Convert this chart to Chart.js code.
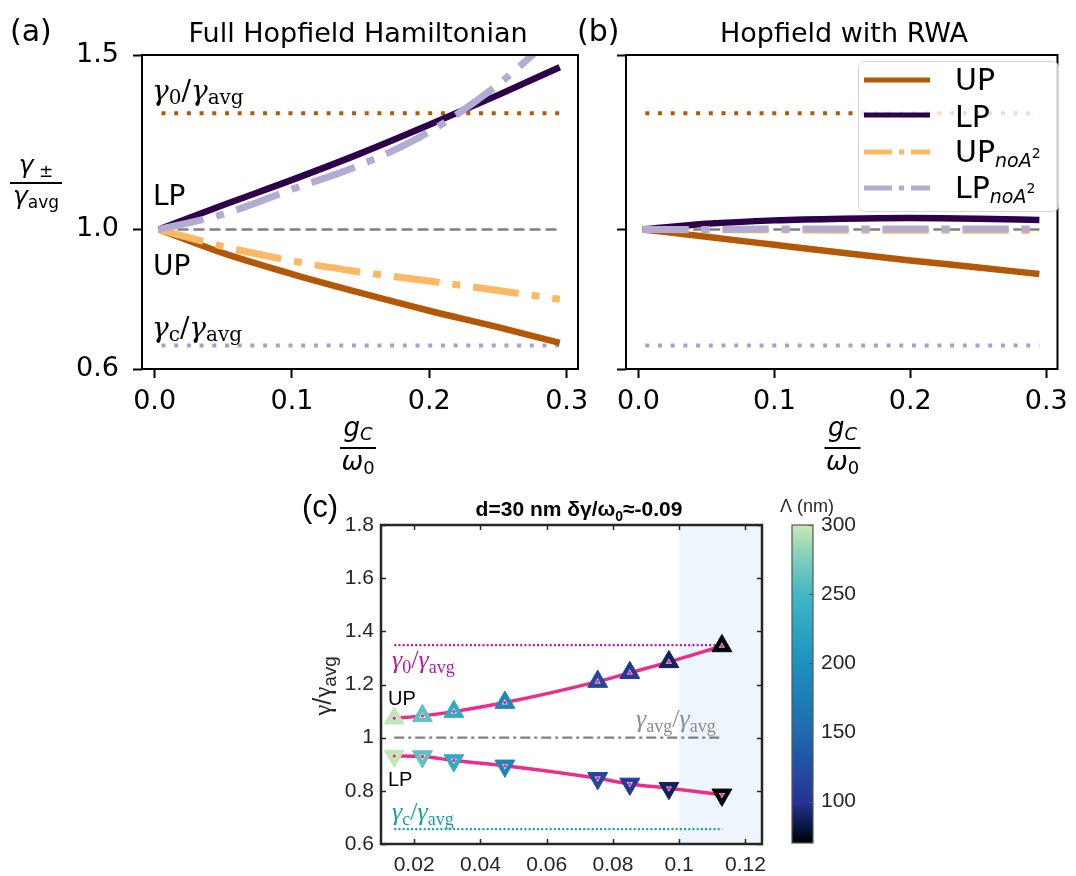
<!DOCTYPE html>
<html>
<head>
<meta charset="utf-8">
<script src="https://cdn.jsdelivr.net/npm/chart.js@4.4.0/dist/chart.umd.min.js"></script>
<style>
  html, body { margin: 0; padding: 0; background: #fff; }
  #page { position: relative; width: 1076px; height: 876px; overflow: hidden; background: #fff; }
  canvas { position: absolute; }
</style>
</head>
<body>
<div id="page">
  <canvas id="chartA"></canvas>
  <canvas id="chartB"></canvas>
  <canvas id="chartC"></canvas>
  <canvas id="chartBar"></canvas>
</div>
<script>
// ---- panels (a) and (b): gamma_pm / gamma_avg against g_C / omega_0 ----
const gFull = [0.003, 0.05, 0.1, 0.15, 0.2, 0.25, 0.295];
const upFull = [1.0, 0.932, 0.872, 0.818, 0.767, 0.72, 0.675];
const lpFull = [1.0, 1.07, 1.142, 1.218, 1.3, 1.385, 1.465];
const upNoA2Full = [1.0, 0.951, 0.91, 0.878, 0.852, 0.825, 0.8];
const gLpNoA2Full = [0.003, 0.05, 0.1, 0.15, 0.2, 0.25, 0.278];
const lpNoA2Full = [1.0, 1.044, 1.115, 1.185, 1.28, 1.415, 1.51];

const gRwa = [0.003, 0.05, 0.1, 0.15, 0.2, 0.25, 0.295];
const upRwa = [1.0, 0.979, 0.956, 0.933, 0.911, 0.891, 0.872];
const lpRwa = [1.0, 1.016, 1.026, 1.031, 1.033, 1.031, 1.027];
const upNoA2Rwa = [1.0, 0.999, 0.999, 0.998, 0.998, 0.998, 0.997];
const lpNoA2Rwa = [1.0, 1.0, 1.001, 1.001, 1.001, 1.001, 1.001];

// horizontal reference levels
const refSpan = [0.005, 0.295];
const gamma0Ratio = 1.333;
const gammaCRatio = 0.667;
const gammaAvgRatio = 1.0;

const xTicksHop = [0, 0.1, 0.2, 0.3];
const yTicksHop = [0.6, 1.0, 1.5];

// ---- panel (c): measured UP / LP, colour = grating period Lambda ----
const gC = [0.014, 0.0225, 0.032, 0.0474, 0.0754, 0.0851, 0.0969, 0.1129];
const upC = [1.073, 1.082, 1.098, 1.132, 1.211, 1.244, 1.285, 1.345];
const lpC = [0.931, 0.929, 0.914, 0.894, 0.847, 0.826, 0.81, 0.785];
const lambdaC = [298, 262, 232, 183, 118, 105, 88, 72];
const refSpanC = [0.014, 0.113];
const gamma0C = 1.348;
const gammaCC = 0.656;
const gammaAvgC = 1.0;
const shadeFromC = 0.1;

const xTicksC = [0.02, 0.04, 0.06, 0.08, 0.1, 0.12];
const yTicksC = [0.6, 0.8, 1, 1.2, 1.4, 1.6, 1.8];
const lambdaTicks = [100, 150, 200, 250, 300];
const lambdaMin = 70;
const lambdaMax = 300;

// ---- styles ----
const colUP = '#b35806', colLP = '#2d004b', colUPno = '#fdb863', colLPno = '#b2abd2';
const colGc = '#a6a0cf', colGray = '#808080';
const colPink = '#ec2d8a', colMag = '#b01aa8', colTeal = '#17a0a0', colInk = '#262626';
const DASHDOT = [46, 13, 8, 13];
const DV = '"DejaVu Sans"', DVS = '"DejaVu Serif"', SERIF = '"Liberation Serif"', ARIAL = '"Liberation Sans"';

// colormap of the colour bar (black -> navy -> blue -> teal -> light green)
const cmapStops = [0, 0.06, 0.13, 0.35, 0.565, 0.78, 0.89, 1];
const cmapColors = ['#000000', '#0c1a4a', '#253494', '#1f6aae', '#1d91c0', '#41b6c4', '#7fcdbb', '#c7e9b4'];

function hexRgb(h) { return [1, 3, 5].map(i => parseInt(h.slice(i, i + 2), 16)); }
function cmap(t) {
  t = Math.max(0, Math.min(1, t));
  let i = 0;
  while (i < cmapStops.length - 2 && t > cmapStops[i + 1]) i++;
  const f = (t - cmapStops[i]) / (cmapStops[i + 1] - cmapStops[i]);
  const a = hexRgb(cmapColors[i]), b = hexRgb(cmapColors[i + 1]);
  return 'rgb(' + a.map((v, k) => Math.round(v + (b[k] - v) * f)).join(',') + ')';
}

// ---- layout: canvas boxes and plot areas (page pixels) ----
const boxA = { x: 0, y: 0, w: 600, h: 480 }, plotA = { l: 142, t: 55, r: 578, b: 369 };
const boxB = { x: 570, y: 0, w: 506, h: 480 }, plotB = { l: 626, t: 55, r: 1063, b: 369 };
const boxC = { x: 290, y: 480, w: 490, h: 396 }, plotC = { l: 381, t: 525, r: 762, b: 844 };
const boxBar = { x: 780, y: 480, w: 296, h: 396 }, plotBar = { l: 792, t: 525, r: 813, b: 843 };

function placeCanvas(id, box) {
  const c = document.getElementById(id);
  c.width = box.w; c.height = box.h;
  c.style.left = box.x + 'px'; c.style.top = box.y + 'px';
  c.style.width = box.w + 'px'; c.style.height = box.h + 'px';
  return c;
}

const pts = (xs, ys) => xs.map((x, i) => ({ x: x, y: ys[i] }));
const flat = (xs, v) => xs.map(x => ({ x: x, y: v }));

function curve(data, color, width, dash, order) {
  return {
    data: data, showLine: true, borderColor: color, backgroundColor: color,
    borderWidth: width, borderDash: dash || [], pointRadius: 0,
    cubicInterpolationMode: 'monotone', fill: false, order: order
  };
}

// text made of runs: [text, font, dy]
function rich(ctx, x, y, parts, color, align) {
  ctx.save();
  ctx.fillStyle = color;
  ctx.textBaseline = 'alphabetic';
  ctx.textAlign = 'left';
  let w = 0;
  parts.forEach(p => { ctx.font = p[1]; w += ctx.measureText(p[0]).width; });
  let cx = align === 'center' ? x - w / 2 : x;
  parts.forEach(p => {
    ctx.font = p[1];
    ctx.fillText(p[0], cx, y + (p[2] || 0));
    cx += ctx.measureText(p[0]).width;
  });
  ctx.restore();
}

function fraction(ctx, cx, num, numBase, barY, barHalf, den, denBase) {
  rich(ctx, cx, numBase, num, '#000', 'center');
  ctx.fillStyle = '#000';
  ctx.fillRect(cx - barHalf, barY - 1, barHalf * 2, 2);
  rich(ctx, cx, denBase, den, '#000', 'center');
}

function gammaRatio(sub, family, big, small, drop) {
  return [['γ', 'italic ' + big + 'px ' + family], [sub, small + 'px ' + family, drop],
          ['/', big + 'px ' + family], ['γ', 'italic ' + big + 'px ' + family], ['avg', small + 'px ' + family, drop]];
}

function hopfieldDatasets(g, up, lp, gLpNo, upNo, lpNo) {
  return [
    curve(pts(gLpNo, lpNo), colLPno, 7, DASHDOT, 0),
    curve(pts(g, upNo), colUPno, 7, DASHDOT, 1),
    curve(pts(g, lp), colLP, 6.5, [], 2),
    curve(pts(g, up), colUP, 6.5, [], 3),
    curve(flat(refSpan, gammaAvgRatio), colGray, 2.5, [11, 5], 4),
    curve(flat(refSpan, gamma0Ratio), colUP, 4, [4, 8.7], 5),
    curve(flat(refSpan, gammaCRatio), colGc, 4, [4, 8.7], 6)
  ];
}

function hopfieldChart(id, box, plot, datasets, showYLabels, decor) {
  const canvas = placeCanvas(id, box);
  return new Chart(canvas, {
    type: 'scatter',
    data: { datasets: datasets },
    options: {
      responsive: false, animation: false, events: [],
      layout: { padding: { left: 0, top: plot.t - box.y, right: box.x + box.w - plot.r, bottom: 0 } },
      plugins: { legend: { display: false }, tooltip: { enabled: false } },
      scales: {
        x: {
          type: 'linear', min: -0.0092, max: 0.3083,
          afterFit: s => { s.height = box.y + box.h - plot.b; },
          afterBuildTicks: s => { s.ticks = xTicksHop.map(v => ({ value: v })); },
          grid: { display: true, drawOnChartArea: false, drawTicks: true, tickLength: 9, tickWidth: 2, tickColor: '#000' },
          border: { display: false },
          ticks: { color: '#000', font: { family: 'DejaVu Sans', size: 27 }, padding: 8, maxRotation: 0, autoSkip: false,
                   callback: v => v.toFixed(1) }
        },
        y: {
          type: 'linear', min: 0.6, max: 1.5,
          afterFit: s => { s.width = plot.l - box.x; },
          afterBuildTicks: s => { s.ticks = yTicksHop.map(v => ({ value: v })); },
          grid: { display: true, drawOnChartArea: false, drawTicks: true, tickLength: 9, tickWidth: 2, tickColor: '#000' },
          border: { display: false },
          ticks: { display: showYLabels, color: '#000', font: { family: 'DejaVu Sans', size: 27 }, padding: 14, autoSkip: false,
                   callback: v => v.toFixed(1) }
        }
      }
    },
    plugins: [decor]
  });
}

function axisFrame(ctx, a, color, w) {
  ctx.save();
  ctx.strokeStyle = color; ctx.lineWidth = w;
  ctx.strokeRect(a.left, a.top, a.right - a.left, a.bottom - a.top);
  ctx.restore();
}

function xLabelFrac(ctx, cx) {
  fraction(ctx, cx,
    [['g', 'oblique 26px ' + DV], ['C', 'oblique 18px ' + DV, 4]], 436, 448, 18,
    [['ω', 'oblique 26px ' + DV], ['0', '18px ' + DV, 4]], 470);
}

// ---- panel (a) ----
hopfieldChart('chartA', boxA, plotA,
  hopfieldDatasets(gFull, upFull, lpFull, gLpNoA2Full, upNoA2Full, lpNoA2Full), true, {
  id: 'decorA',
  afterDatasetsDraw(chart) {
    axisFrame(chart.ctx, chart.chartArea, '#000', 2);
  },
  afterDraw(chart) {
    const ctx = chart.ctx;
    rich(ctx, 10, 41, [['(a)', '30px ' + DV]], '#000');
    rich(ctx, 358, 42, [['Full Hopfield Hamiltonian', '27px ' + DV]], '#000', 'center');
    rich(ctx, 152, 100, gammaRatio('0', DVS, 28, 20, 4), '#000');
    rich(ctx, 152, 337, gammaRatio('c', DVS, 28, 20, 4), '#000');
    rich(ctx, 153, 205, [['LP', '28px ' + DV]], '#000');
    rich(ctx, 153, 275, [['UP', '28px ' + DV]], '#000');
    fraction(ctx, 36,
      [['γ', 'oblique 25px ' + DV], [' ±', '17px ' + DV, 4]], 173, 183, 26,
      [['γ', 'oblique 25px ' + DV], ['avg', '17px ' + DV, 4]], 204);
    xLabelFrac(ctx, 358);
  }
});

// ---- panel (b) ----
const legendRows = [
  { color: colUP, dash: [], y: 80, base: 90, label: [['UP', '30px ' + DV]] },
  { color: colLP, dash: [], y: 115, base: 127, label: [['LP', '30px ' + DV]] },
  { color: colUPno, dash: [28, 7, 5, 7], y: 152, base: 162,
    label: [['UP', '30px ' + DV], ['noA', 'oblique 19px ' + DV, 5], ['2', '14px ' + DV, -4]] },
  { color: colLPno, dash: [28, 7, 5, 7], y: 188, base: 198,
    label: [['LP', '30px ' + DV], ['noA', 'oblique 19px ' + DV, 5], ['2', '14px ' + DV, -5]] }
];

hopfieldChart('chartB', boxB, plotB,
  hopfieldDatasets(gRwa, upRwa, lpRwa, gRwa, upNoA2Rwa, lpNoA2Rwa), false, {
  id: 'decorB',
  afterDatasetsDraw(chart) {
    const ctx = chart.ctx;
    axisFrame(ctx, chart.chartArea, '#000', 2);
    ctx.save();
    ctx.translate(-boxB.x, -boxB.y);
    // legend box
    ctx.beginPath();
    ctx.roundRect(858.5, 61.5, 200, 150, 6);
    ctx.fillStyle = 'rgba(255,255,255,0.8)';
    ctx.fill();
    ctx.strokeStyle = '#d6d6d6'; ctx.lineWidth = 1;
    ctx.stroke();
    legendRows.forEach(r => {
      ctx.beginPath();
      ctx.setLineDash(r.dash);
      ctx.strokeStyle = r.color; ctx.lineWidth = 5;
      ctx.moveTo(864, r.y); ctx.lineTo(930, r.y);
      ctx.stroke();
      ctx.setLineDash([]);
      rich(ctx, 955, r.base, r.label, '#000');
    });
    ctx.restore();
  },
  afterDraw(chart) {
    const ctx = chart.ctx;
    ctx.save();
    ctx.translate(-boxB.x, -boxB.y);
    rich(ctx, 577, 41, [['(b)', '30px ' + DV]], '#000');
    rich(ctx, 844, 42, [['Hopfield with RWA', '27px ' + DV]], '#000', 'center');
    xLabelFrac(ctx, 842.5);
    ctx.restore();
  }
});

// ---- panel (c) ----
const markerColors = lambdaC.map(v => cmap((v - lambdaMin) / (lambdaMax - lambdaMin)));

function markers(ys, rotation, radius, fill, border, order) {
  return {
    data: pts(gC, ys), pointStyle: 'triangle', pointRotation: rotation, pointRadius: radius,
    pointBorderWidth: border, pointBorderColor: fill, pointBackgroundColor: fill,
    showLine: false, order: order
  };
}

placeCanvas('chartC', boxC);
new Chart(document.getElementById('chartC'), {
  type: 'scatter',
  data: {
    datasets: [
      { data: pts(gC, upC).concat(pts(gC, lpC)), pointRadius: 1.7, pointBackgroundColor: colPink,
        pointBorderWidth: 0, showLine: false, order: 0 },
      markers(upC, 0, 3.6, 'rgba(255,255,255,0.85)', 0, 1),
      markers(lpC, 180, 3.6, 'rgba(255,255,255,0.85)', 0, 1),
      markers(upC, 0, 11.5, markerColors, 1, 2),
      markers(lpC, 180, 11.5, markerColors, 1, 2),
      curve(pts(gC, upC), colPink, 3.5, [], 3),
      curve(pts(gC, lpC), colPink, 3.5, [], 3),
      curve(flat(refSpanC, gamma0C), colMag, 2.2, [2, 2.2], 4),
      curve(flat(refSpanC, gammaCC), colTeal, 2.2, [2, 2.2], 4),
      curve(flat(refSpanC, gammaAvgC), colGray, 2.2, [10, 4, 3, 4], 4)
    ]
  },
  options: {
    responsive: false, animation: false, events: [],
    layout: { padding: { left: 0, top: plotC.t - boxC.y, right: boxC.x + boxC.w - plotC.r, bottom: 0 } },
    plugins: { legend: { display: false }, tooltip: { enabled: false } },
    scales: {
      x: {
        type: 'linear', min: 0.01, max: 0.125,
        afterFit: s => { s.height = boxC.y + boxC.h - plotC.b; },
        afterBuildTicks: s => { s.ticks = xTicksC.map(v => ({ value: v })); },
        grid: { display: false, drawTicks: false }, border: { display: false },
        ticks: { color: colInk, font: { family: 'Liberation Sans', size: 21 }, padding: 9, maxRotation: 0, autoSkip: false,
                 callback: v => String(+v.toFixed(2)) }
      },
      y: {
        type: 'linear', min: 0.6, max: 1.8,
        afterFit: s => { s.width = plotC.l - boxC.x; },
        afterBuildTicks: s => { s.ticks = yTicksC.map(v => ({ value: v })); },
        grid: { display: false, drawTicks: false }, border: { display: false },
        ticks: { color: colInk, font: { family: 'Liberation Sans', size: 21 }, padding: 7, autoSkip: false,
                 callback: v => String(+v.toFixed(2)) }
      }
    }
  },
  plugins: [{
    id: 'decorC',
    beforeDatasetsDraw(chart) {
      const ctx = chart.ctx, a = chart.chartArea;
      const x0 = chart.scales.x.getPixelForValue(shadeFromC);
      ctx.save();
      ctx.fillStyle = '#eef5fc';
      ctx.fillRect(x0, a.top, a.right - x0, a.bottom - a.top);
      ctx.restore();
    },
    afterDatasetsDraw(chart) {
      const ctx = chart.ctx, a = chart.chartArea, sx = chart.scales.x, sy = chart.scales.y;
      ctx.save();
      ctx.strokeStyle = colInk; ctx.lineWidth = 1.5;
      ctx.beginPath();
      xTicksC.forEach(v => {
        const p = Math.round(sx.getPixelForValue(v)) + 0.5;
        ctx.moveTo(p, a.bottom); ctx.lineTo(p, a.bottom - 5);
        ctx.moveTo(p, a.top); ctx.lineTo(p, a.top + 5);
      });
      yTicksC.forEach(v => {
        const p = Math.round(sy.getPixelForValue(v)) + 0.5;
        ctx.moveTo(a.left, p); ctx.lineTo(a.left + 5, p);
        ctx.moveTo(a.right, p); ctx.lineTo(a.right - 5, p);
      });
      ctx.stroke();
      ctx.restore();
      axisFrame(ctx, a, colInk, 2.5);

      ctx.save();
      ctx.translate(-boxC.x, -boxC.y);
      rich(ctx, 392, 668, gammaRatio('0', SERIF, 26, 18, 5), colMag);
      rich(ctx, 392, 820, gammaRatio('c', SERIF, 26, 18, 5), colTeal);
      rich(ctx, 636, 727, [['γ', 'italic 26px ' + SERIF], ['avg', '18px ' + SERIF, 5], ['/', '26px ' + SERIF],
                           ['γ', 'italic 26px ' + SERIF], ['avg', '18px ' + SERIF, 5]], '#8c8c8c');
      rich(ctx, 388, 705, [['UP', '20px ' + ARIAL]], '#000');
      rich(ctx, 388, 786, [['LP', '20px ' + ARIAL]], '#000');
      ctx.restore();
    },
    afterDraw(chart) {
      const ctx = chart.ctx;
      ctx.save();
      ctx.translate(-boxC.x, -boxC.y);
      rich(ctx, 302, 517, [['(c)', '31px ' + ARIAL]], '#000');
      rich(ctx, 579, 516, [['d=30 nm δγ/ω', 'bold 21px ' + ARIAL], ['0', 'bold 14px ' + ARIAL, 5],
                           ['≈-0.09', 'bold 21px ' + ARIAL]], '#000', 'center');
      ctx.translate(331, 686);
      ctx.rotate(-Math.PI / 2);
      rich(ctx, 0, 0, [['γ', '25px ' + SERIF], ['/', '25px ' + ARIAL], ['γ', '25px ' + SERIF],
                       ['avg', '19px ' + ARIAL, 5]], colInk, 'center');
      ctx.restore();
    }
  }]
});

// ---- colour bar for Lambda (nm) ----
placeCanvas('chartBar', boxBar);
new Chart(document.getElementById('chartBar'), {
  type: 'scatter',
  data: { datasets: [] },
  options: {
    responsive: false, animation: false, events: [],
    layout: { padding: { left: plotBar.l - boxBar.x, top: plotBar.t - boxBar.y, right: 0, bottom: boxBar.y + boxBar.h - plotBar.b } },
    plugins: { legend: { display: false }, tooltip: { enabled: false } },
    scales: {
      x: { display: false, min: 0, max: 1 },
      y: {
        type: 'linear', position: 'right', min: lambdaMin, max: lambdaMax,
        afterFit: s => { s.width = boxBar.x + boxBar.w - plotBar.r; },
        afterBuildTicks: s => { s.ticks = lambdaTicks.map(v => ({ value: v })); },
        grid: { display: false, drawTicks: false }, border: { display: false },
        ticks: { color: colInk, font: { family: 'Liberation Sans', size: 21 }, padding: 8, autoSkip: false }
      }
    }
  },
  plugins: [{
    id: 'colourBar',
    afterDraw(chart) {
      const ctx = chart.ctx, a = chart.chartArea, sy = chart.scales.y;
      ctx.save();
      const grad = ctx.createLinearGradient(0, a.bottom, 0, a.top);
      cmapStops.forEach((s, i) => grad.addColorStop(s, cmapColors[i]));
      ctx.fillStyle = grad;
      ctx.fillRect(a.left, a.top, a.right - a.left, a.bottom - a.top);
      ctx.strokeStyle = '#555'; ctx.lineWidth = 1.2;
      ctx.strokeRect(a.left, a.top, a.right - a.left, a.bottom - a.top);
      ctx.beginPath();
      lambdaTicks.forEach(v => {
        const p = Math.round(sy.getPixelForValue(v)) + 0.5;
        ctx.moveTo(a.right, p); ctx.lineTo(a.right - 4, p);
      });
      ctx.stroke();
      ctx.translate(-boxBar.x, -boxBar.y);
      rich(ctx, 807, 512, [['Λ (nm)', '18px ' + ARIAL]], colInk, 'center');
      ctx.restore();
    }
  }]
});
</script>
</body>
</html>
